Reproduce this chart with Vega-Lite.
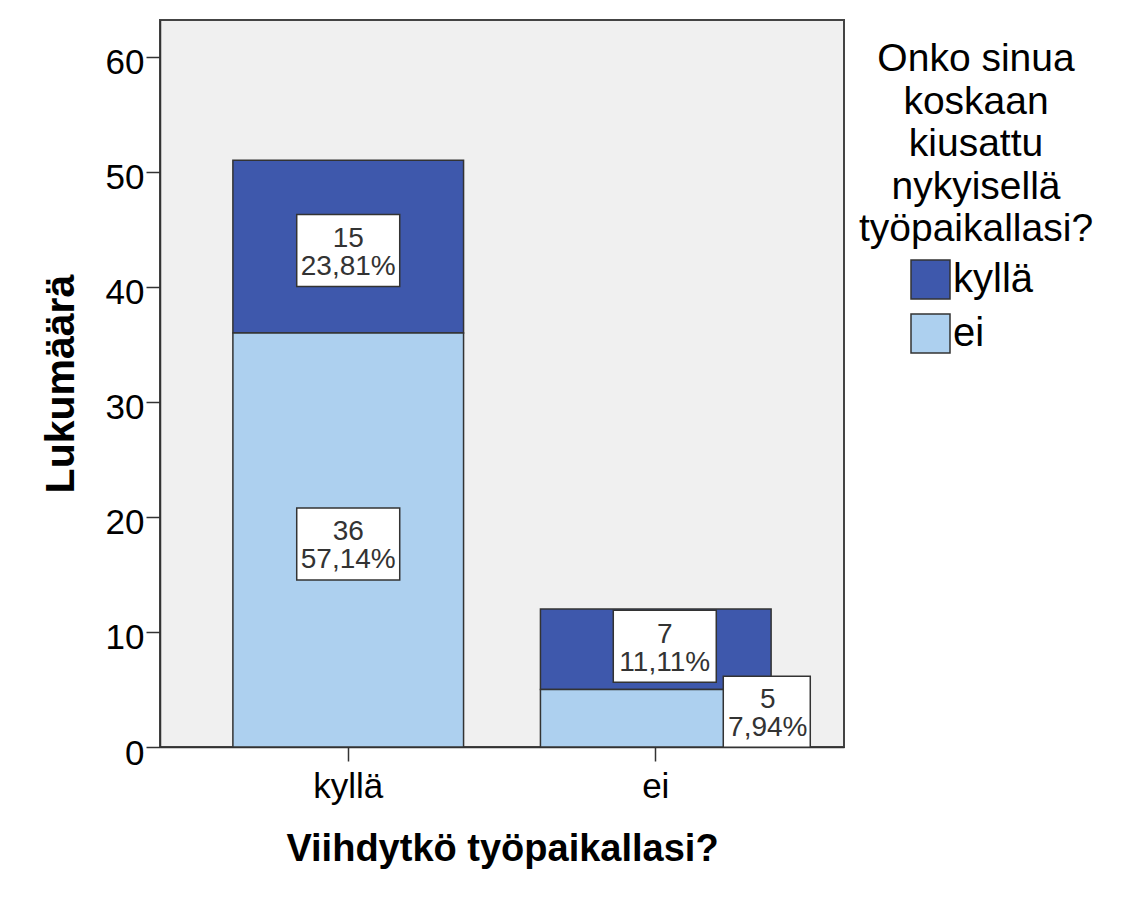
{
  "$schema": "https://vega.github.io/schema/vega-lite/v6.json",
  "width": 684,
  "height": 727,
  "autosize": {"type": "none"},
  "padding": {"left": 160, "top": 20, "right": 281, "bottom": 151},
  "background": "white",
  "config": {
    "font": "Liberation Sans",
    "view": {"fill": "#f0f0f0", "stroke": "#444444", "strokeWidth": 2},
    "axis": {
      "domainColor": "#333333", "domainWidth": 1.5,
      "tickColor": "#333333", "tickWidth": 1.5, "tickSize": 14,
      "labelColor": "#000000", "titleColor": "#000000",
      "labelFont": "Liberation Sans", "titleFont": "Liberation Sans",
      "grid": false
    },
    "legend": {"labelFont": "Liberation Sans", "titleFont": "Liberation Sans"}
  },
  "data": {
    "values": [
      {"viihdy": "kyllä", "kiusattu": "kyllä", "lukumaara": 15, "label": "15\n23,81%"},
      {"viihdy": "kyllä", "kiusattu": "ei", "lukumaara": 36, "label": "36\n57,14%"},
      {"viihdy": "ei", "kiusattu": "kyllä", "lukumaara": 7, "label": "7\n11,11%"},
      {"viihdy": "ei", "kiusattu": "ei", "lukumaara": 5, "label": "5\n7,94%"}
    ]
  },
  "encoding": {
    "x": {
      "field": "viihdy", "type": "nominal", "sort": ["kyllä", "ei"],
      "scale": {"paddingInner": 0.25, "paddingOuter": 0.237},
      "axis": {
        "title": "Viihdytkö työpaikallasi?", "labelAngle": 0, "labelFontSize": 35,
        "labelPadding": 8, "titleFontSize": 38, "titleFontWeight": "bold", "titlePadding": 26
      }
    },
    "y": {
      "field": "lukumaara", "type": "quantitative", "stack": "zero",
      "scale": {"domain": [0, 63.2], "nice": false},
      "axis": {
        "title": "Lukumäärä", "values": [0, 10, 20, 30, 40, 50, 60], "labelFontSize": 35,
        "labelPadding": 2, "labelOffset": 6, "titleFontSize": 41, "titleFontWeight": "bold", "titlePadding": 23
      }
    },
    "order": {"field": "kiusattu", "type": "nominal", "sort": "ascending"},
    "detail": {"field": "kiusattu", "type": "nominal"}
  },
  "layer": [
    {
      "mark": {"type": "bar", "stroke": "#333333", "strokeWidth": 1.5},
      "encoding": {
        "color": {
          "field": "kiusattu", "type": "nominal",
          "scale": {"domain": ["kyllä", "ei"], "range": ["#3e58ac", "#add0ef"]},
          "legend": {
            "title": ["Onko sinua", "koskaan", "kiusattu", "nykyisellä", "työpaikallasi?"],
            "titleFontSize": 39, "titleFontWeight": "normal", "titleColor": "#000000",
            "titleAlign": "center", "titleAnchor": "middle", "titleLineHeight": 42.5,
            "titlePadding": 10, "titleLimit": 400,
            "labelFontSize": 40, "labelColor": "#000000", "labelOffset": 2, "labelLimit": 300,
            "labelBaseline": "middle",
            "symbolType": "square", "symbolSize": 1521, "symbolStrokeColor": "#333333",
            "symbolStrokeWidth": 1.5, "symbolOffset": -8, "symbolOpacity": 1,
            "rowPadding": 9, "padding": 20, "offset": -5
          }
        }
      }
    },
    {
      "mark": {"type": "point", "shape": "M-1,-0.699L1,-0.699L1,0.699L-1,0.699Z", "size": 10609, "filled": true, "fill": "white", "stroke": "#333333", "strokeWidth": 1.5, "yOffset": 4},
      "encoding": {
        "y": {"field": "lukumaara", "type": "quantitative", "stack": "zero", "bandPosition": 0.5},
        "opacity": {"condition": {"test": "datum.viihdy === 'kyllä'", "value": 1}, "value": 0}
      }
    },
    {
      "mark": {"type": "text", "fontSize": 28, "lineHeight": 28, "lineBreak": "\n", "color": "#333333", "baseline": "alphabetic", "align": "center", "yOffset": 0.5},
      "encoding": {
        "y": {"field": "lukumaara", "type": "quantitative", "stack": "zero", "bandPosition": 0.5},
        "text": {"field": "label", "type": "nominal"},
        "opacity": {"condition": {"test": "datum.viihdy === 'kyllä'", "value": 1}, "value": 0}
      }
    },
    {
      "mark": {"type": "point", "shape": "M-1,-0.699L1,-0.699L1,0.699L-1,0.699Z", "size": 10609, "filled": true, "fill": "white", "stroke": "#333333", "strokeWidth": 1.5, "xOffset": 9, "yOffset": -3},
      "encoding": {
        "y": {"field": "lukumaara", "type": "quantitative", "stack": "zero", "bandPosition": 0.5},
        "opacity": {"condition": {"test": "datum.viihdy === 'ei' && datum.kiusattu === 'kyllä'", "value": 1}, "value": 0}
      }
    },
    {
      "mark": {"type": "text", "fontSize": 28, "lineHeight": 28, "lineBreak": "\n", "color": "#333333", "baseline": "alphabetic", "align": "center", "xOffset": 9, "yOffset": -6.5},
      "encoding": {
        "y": {"field": "lukumaara", "type": "quantitative", "stack": "zero", "bandPosition": 0.5},
        "text": {"field": "label", "type": "nominal"},
        "opacity": {"condition": {"test": "datum.viihdy === 'ei' && datum.kiusattu === 'kyllä'", "value": 1}, "value": 0}
      }
    },
    {
      "mark": {"type": "point", "shape": "M-1,-0.816L1,-0.816L1,0.816L-1,0.816Z", "size": 7569, "filled": true, "fill": "white", "stroke": "#333333", "strokeWidth": 1.5, "xOffset": 111, "yOffset": -6.5},
      "encoding": {
        "y": {"field": "lukumaara", "type": "quantitative", "stack": "zero", "bandPosition": 0.5},
        "opacity": {"condition": {"test": "datum.viihdy === 'ei' && datum.kiusattu === 'ei'", "value": 1}, "value": 0}
      }
    },
    {
      "mark": {"type": "text", "fontSize": 28, "lineHeight": 28, "lineBreak": "\n", "color": "#333333", "baseline": "alphabetic", "align": "center", "xOffset": 112, "yOffset": -10},
      "encoding": {
        "y": {"field": "lukumaara", "type": "quantitative", "stack": "zero", "bandPosition": 0.5},
        "text": {"field": "label", "type": "nominal"},
        "opacity": {"condition": {"test": "datum.viihdy === 'ei' && datum.kiusattu === 'ei'", "value": 1}, "value": 0}
      }
    }
  ]
}
